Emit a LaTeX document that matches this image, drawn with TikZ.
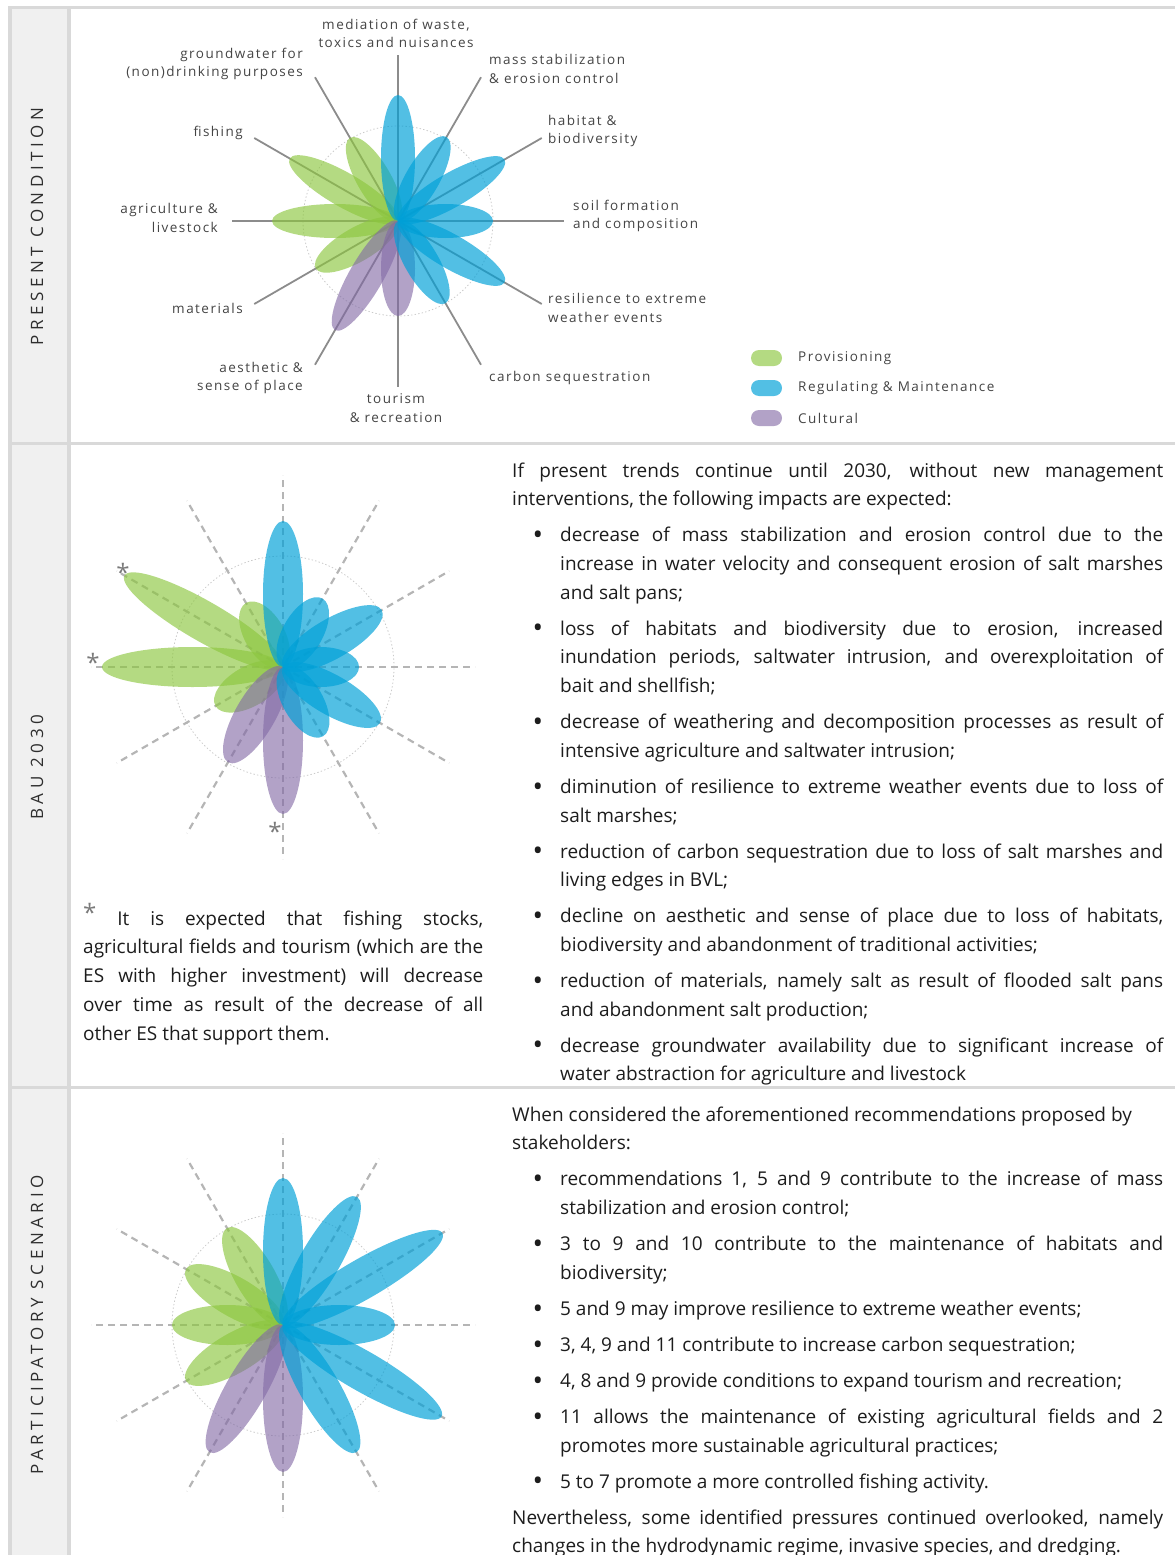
\documentclass[tikz,border=0pt]{standalone}
\usepackage{fontspec}
\setmainfont{Open Sans}
\newfontfamily\eslabelfont[LetterSpace=11]{Open Sans}
\newfontfamily\sidelabelfont[LetterSpace=27]{Open Sans}

\definecolor{framegrey}{HTML}{D9D9D9}
\definecolor{sidefill}{HTML}{F0F0F0}
\definecolor{provc}{RGB}{140,198,63}
\definecolor{regc}{RGB}{0,160,215}
\definecolor{cultc}{RGB}{130,105,165}
\definecolor{labelc}{HTML}{444444}
\definecolor{bodyc}{HTML}{1C1C1C}
\definecolor{sidec}{HTML}{2E2E2E}
\definecolor{spokec}{HTML}{8C8C8C}
\definecolor{dashc}{HTML}{B5B5B5}
\definecolor{ringc}{HTML}{CACACA}
\definecolor{astc}{HTML}{7A7A7A}

% one petal: centre, direction (deg), length, half width, style
\newcommand\petal[5]{%
  \fill[#5, shift={(#1)}, rotate=#2] (#3*0.5,0) ellipse [x radius=#3*0.5pt, y radius=#4pt];}
% bullet item of a list paragraph
\newcommand\bitem{\noindent\llap{{\fontsize{28}{28}\selectfont\raisebox{-2.7pt}{\textbullet}}\hskip 17pt}}

\tikzset{
  prov/.style={fill=provc, fill opacity=0.65},
  regu/.style={fill=regc, fill opacity=0.68},
  cult/.style={fill=cultc, fill opacity=0.62},
  framebar/.style={fill=framegrey},
  sidelabel/.style={font=\sidelabelfont\fontsize{17}{20}\selectfont, text=sidec, rotate=90, inner sep=0pt},
  eslabel/.style={font=\eslabelfont\fontsize{13.5}{18.5}\selectfont, text=labelc, inner sep=0pt},
  legendpill/.style={minimum width=31pt, minimum height=16pt, rounded corners=8pt, inner sep=0pt},
  solidspoke/.style={draw=spokec, line width=1.8pt},
  dashspoke/.style={draw=dashc, line width=2.2pt, dash pattern=on 7pt off 5pt},
  ring/.style={draw=ringc, line width=0.8pt, dash pattern=on 1.4pt off 2.2pt},
  bodytext/.style={font=\fontsize{19}{28.7}\selectfont, text=bodyc, inner sep=0pt,
    align=justify, anchor=north west,
    execute at begin node={\tolerance=9999\hyphenpenalty=10000\parskip=7.3pt\parindent=0pt}},
  asterisk/.style={font=\fontsize{24}{24}\selectfont, text=astc, inner sep=0pt},
}

\begin{document}
\begin{tikzpicture}[x=1pt,y=-1pt]
\useasboundingbox (0,0) rectangle (1175,1555);

% ---------- frame ----------
\fill[sidefill] (12,9) rectangle (67,1555);
\fill[framebar] (8,6) rectangle (1175,9);
\fill[framebar] (8,6) rectangle (12,1555);
\fill[framebar] (67,6) rectangle (71,1555);
\fill[framebar] (8,442) rectangle (1175,445);
\fill[framebar] (8,1086) rectangle (1175,1089);

\node[sidelabel] (sidepresent) at (37,226.5) {PRESENT CONDITION};
\node[sidelabel] (sidebau) at (37,767) {BAU 2030};
\node[sidelabel] (sidepart) at (37,1325) {PARTICIPATORY SCENARIO};

% ---------- present condition ----------
\coordinate (c1) at (398,221);
\draw[ring] (c1) circle [radius=95pt];
\foreach \a in {0,30,...,330} {
  \path (c1) ++(-\a:166) coordinate (c1e\a);
  \draw[solidspoke] (c1) -- (c1e\a);
}
\petal{c1}{120}{96}{17}{prov}
\petal{c1}{150}{125}{17}{prov}
\petal{c1}{180}{126}{17}{prov}
\petal{c1}{210}{95}{17}{prov}
\petal{c1}{240}{126}{17}{cult}
\petal{c1}{270}{95}{17}{cult}
\petal{c1}{300}{95}{17}{regu}
\petal{c1}{330}{123}{17}{regu}
\petal{c1}{0}{95}{17}{regu}
\petal{c1}{30}{123}{17}{regu}
\petal{c1}{60}{97}{17}{regu}
\petal{c1}{90}{126}{17}{regu}

\node[eslabel, align=center] (lmed) at (396,33.5) {mediation of waste,\\toxics and nuisances};
\node[eslabel, align=right, anchor=east] (lgw) at (303,64) {groundwater for\\(non)drinking purposes};
\node[eslabel, align=left, anchor=west] (lmass) at (489,69) {mass stabilization\\\& erosion control};
\node[eslabel, align=left, anchor=west] (lhab) at (548,131) {habitat \&\\biodiversity};
\node[eslabel, anchor=east] (lfish) at (243,133) {fishing};
\node[eslabel, align=left, anchor=west] (lsoil) at (573,216) {soil formation\\and composition};
\node[eslabel, align=right, anchor=east] (lagri) at (218,218) {agriculture \&\\livestock};
\node[eslabel, align=left, anchor=west] (lres) at (548,308) {resilience to extreme\\weather events};
\node[eslabel, anchor=east] (lmat) at (243,308) {materials};
\node[eslabel, align=right, anchor=east] (laes) at (303,378) {aesthetic \&\\sense of place};
\node[eslabel, anchor=west] (lcarb) at (489,378) {carbon sequestration};
\node[eslabel, align=center] (ltour) at (396,408) {tourism\\\& recreation};

% legend
\node[legendpill, prov] (pillprov) at (766.5,358) {};
\node[legendpill, regu] (pillregu) at (766.5,388) {};
\node[legendpill, cult] (pillcult) at (766.5,418) {};
\node[eslabel, anchor=west] (legprov) at (798,358) {Provisioning};
\node[eslabel, anchor=west] (legregu) at (798,388) {Regulating \& Maintenance};
\node[eslabel, anchor=west] (legcult) at (798,418) {Cultural};

% ---------- BAU 2030 ----------
\coordinate (c2) at (283,667);
\draw[ring] (c2) circle [radius=111pt];
\foreach \a in {0,30,...,330} {
  \path (c2) ++(-\a:192) coordinate (c2e\a);
  \draw[dashspoke] (c2) -- (c2e\a);
}
\petal{c2}{120}{74}{20}{prov}
\petal{c2}{150}{183}{20}{prov}
\petal{c2}{180}{181}{20}{prov}
\petal{c2}{210}{78}{20}{prov}
\petal{c2}{240}{110}{20}{cult}
\petal{c2}{270}{147}{20}{cult}
\petal{c2}{300}{80}{20}{regu}
\petal{c2}{330}{112}{20}{regu}
\petal{c2}{0}{76}{20}{regu}
\petal{c2}{30}{114}{20}{regu}
\petal{c2}{60}{79}{20}{regu}
\petal{c2}{90}{146}{20}{regu}

\node[asterisk] (astfish) at (123,572) {*};
\node[asterisk] (astagri) at (93,662) {*};
\node[asterisk] (asttour) at (275,831) {*};

\node[bodytext, text width=400pt] (baunote) at (83,904.9) {\noindent\strut{\color{astc}\smash{\raisebox{3.5pt}{\fontsize{24}{24}\selectfont *}}} It is expected that fishing stocks,\linebreak agricultural fields and tourism (which are the\linebreak ES with higher investment) will decrease\linebreak over time as result of the decrease of all\linebreak other ES that support them.};

\node[bodytext, text width=651pt] (bautext) at (512,456.9) {\noindent\strut If present trends continue until 2030, without new management\linebreak interventions, the following impacts are expected:\par
\leftskip=48pt
\bitem decrease of mass stabilization and erosion control due to the\linebreak increase in water velocity and consequent erosion of salt marshes\linebreak and salt pans;\par
\bitem loss of habitats and biodiversity due to erosion, increased\linebreak inundation periods, saltwater intrusion, and overexploitation of\linebreak bait and shellfish;\par
\bitem decrease of weathering and decomposition processes as result of\linebreak intensive agriculture and saltwater intrusion;\par
\bitem diminution of resilience to extreme weather events due to loss of\linebreak salt marshes;\par
\bitem reduction of carbon sequestration due to loss of salt marshes and\linebreak living edges in BVL;\par
\bitem decline on aesthetic and sense of place due to loss of habitats,\linebreak biodiversity and abandonment of traditional activities;\par
\bitem reduction of materials, namely salt as result of flooded salt pans\linebreak and abandonment salt production;\par
\bitem decrease groundwater availability due to significant increase of\linebreak water abstraction for agriculture and livestock\par};

% ---------- participatory scenario ----------
\coordinate (c3) at (283,1325);
\draw[ring] (c3) circle [radius=111pt];
\foreach \a in {0,30,...,330} {
  \path (c3) ++(-\a:192) coordinate (c3e\a);
  \draw[dashspoke] (c3) -- (c3e\a);
}
\petal{c3}{120}{112}{20}{prov}
\petal{c3}{150}{112}{20}{prov}
\petal{c3}{180}{111}{20}{prov}
\petal{c3}{210}{112}{20}{prov}
\petal{c3}{240}{147}{20}{cult}
\petal{c3}{270}{147}{20}{cult}
\petal{c3}{300}{147}{20}{regu}
\petal{c3}{330}{183}{20}{regu}
\petal{c3}{0}{112}{20}{regu}
\petal{c3}{30}{184}{20}{regu}
\petal{c3}{60}{148}{20}{regu}
\petal{c3}{90}{147}{20}{regu}

\node[bodytext, text width=651pt] (parttext) at (512,1100.9) {\noindent\strut When considered the aforementioned recommendations proposed by\newline stakeholders:\par
\leftskip=48pt
\bitem recommendations 1, 5 and 9 contribute to the increase of mass\linebreak stabilization and erosion control;\par
\bitem 3 to 9 and 10 contribute to the maintenance of habitats and\linebreak biodiversity;\par
\bitem 5 and 9 may improve resilience to extreme weather events;\par
\bitem 3, 4, 9 and 11 contribute to increase carbon sequestration;\par
\bitem 4, 8 and 9 provide conditions to expand tourism and recreation;\par
\bitem 11 allows the maintenance of existing agricultural fields and 2\linebreak promotes more sustainable agricultural practices;\par
\bitem 5 to 7 promote a more controlled fishing activity.\par
\leftskip=0pt
\noindent Nevertheless, some identified pressures continued overlooked, namely\linebreak changes in the hydrodynamic regime, invasive species, and dredging.\par};
\end{tikzpicture}
\end{document}
